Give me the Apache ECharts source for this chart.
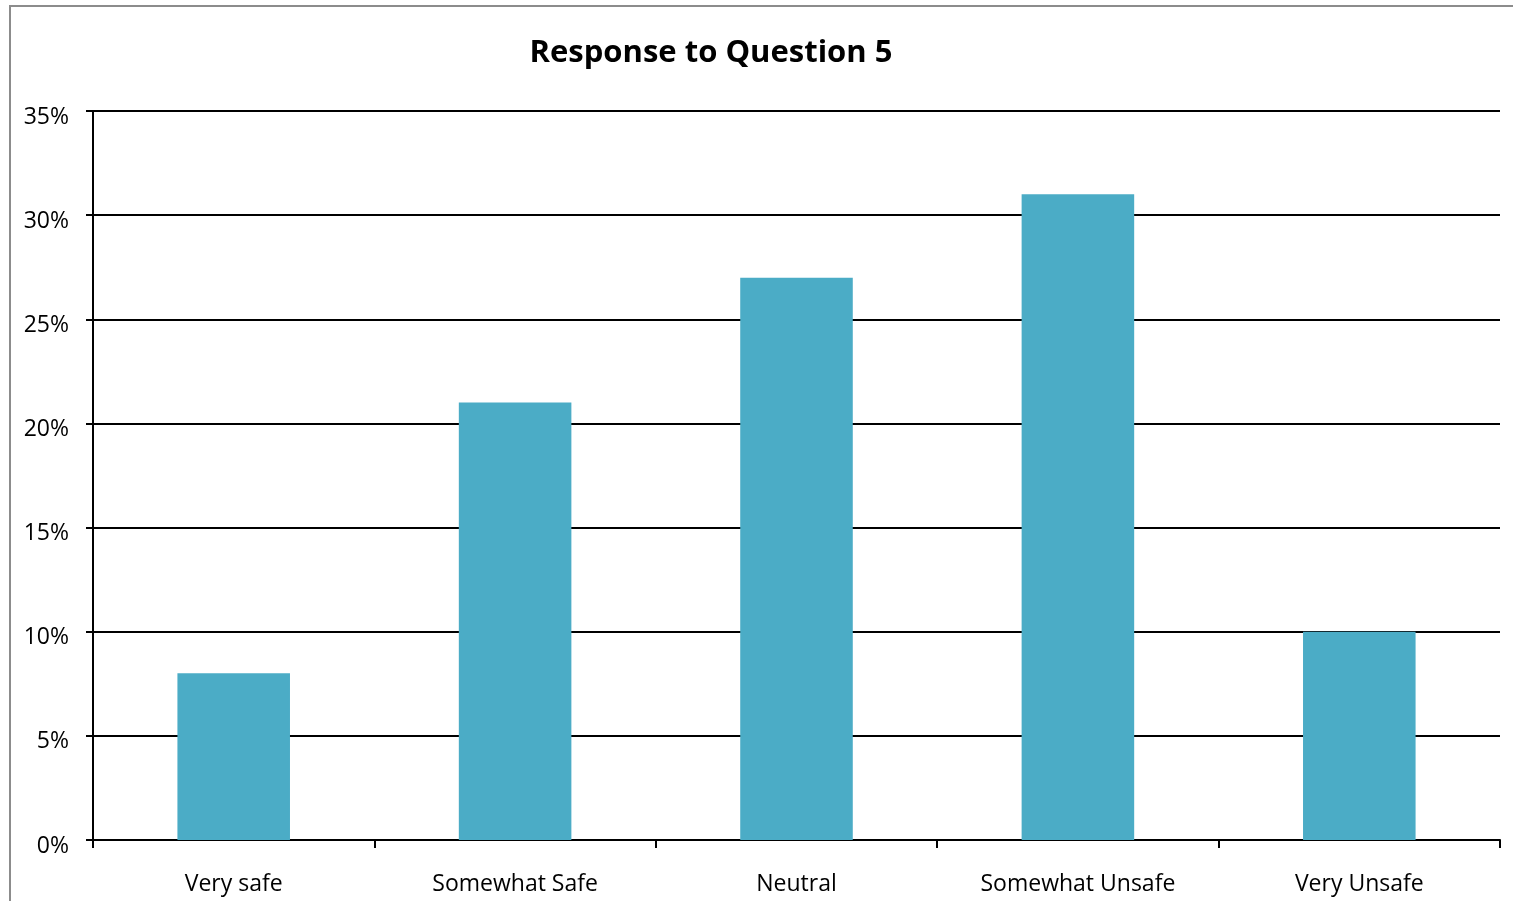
<!DOCTYPE html>
<html>
<head>
<meta charset="utf-8">
<script src="https://cdn.jsdelivr.net/npm/echarts@6/dist/echarts.min.js"></script>
<style>
html,body{margin:0;padding:0;background:#fff;}
#c{width:1513px;height:901px;}
</style>
</head>
<body>
<div id="c"></div>
<script>
const categories = ["Very safe", "Somewhat Safe", "Neutral", "Somewhat Unsafe", "Very Unsafe"];
const values = [8, 21, 27, 31, 10];
const titleText = "Response to Question 5";

const chart = echarts.init(document.getElementById('c'), null, {renderer: 'canvas'});
const FONT = '"Open Sans", Lato, sans-serif';
chart.setOption({
  animation: false,
  backgroundColor: '#fff',
  graphic: [
    {type: 'rect', shape: {x: 10, y: 6, width: 1600, height: 1000}, style: {fill: 'none', stroke: '#8c8c8c', lineWidth: 2}, silent: true},
    {type: 'text', x: 711, y: 53, style: {text: titleText, fill: '#000', font: 'bold 31px ' + FONT, textAlign: 'center', textVerticalAlign: 'middle'}}
  ],
  grid: {left: 93, right: 13, top: 111, bottom: 61, containLabel: false},
  xAxis: {
    type: 'category',
    data: categories,
    boundaryGap: true,
    axisLine: {show: true, lineStyle: {color: '#000', width: 2}},
    axisTick: {show: true, alignWithLabel: false, length: 8, lineStyle: {color: '#000', width: 2}},
    axisLabel: {color: '#000', fontFamily: FONT, fontSize: 23, margin: 33}
  },
  yAxis: {
    type: 'value',
    min: 0, max: 35, interval: 5,
    axisLine: {show: true, lineStyle: {color: '#000', width: 2}},
    axisTick: {show: true, length: 7, lineStyle: {color: '#000', width: 2}},
    splitLine: {show: true, lineStyle: {color: '#000', width: 2}},
    axisLabel: {
      color: '#000', fontFamily: FONT, fontSize: 23, margin: 24,
      formatter: function (v) { return '{a|' + v + '%}'; },
      rich: {a: {color: '#000', fontFamily: FONT, fontSize: 23, padding: [12, 0, 0, 0]}}
    }
  },
  series: [{
    type: 'bar',
    data: values,
    barWidth: '40%',
    itemStyle: {color: '#4BACC6'},
    z: 1
  }]
});
</script>
</body>
</html>
